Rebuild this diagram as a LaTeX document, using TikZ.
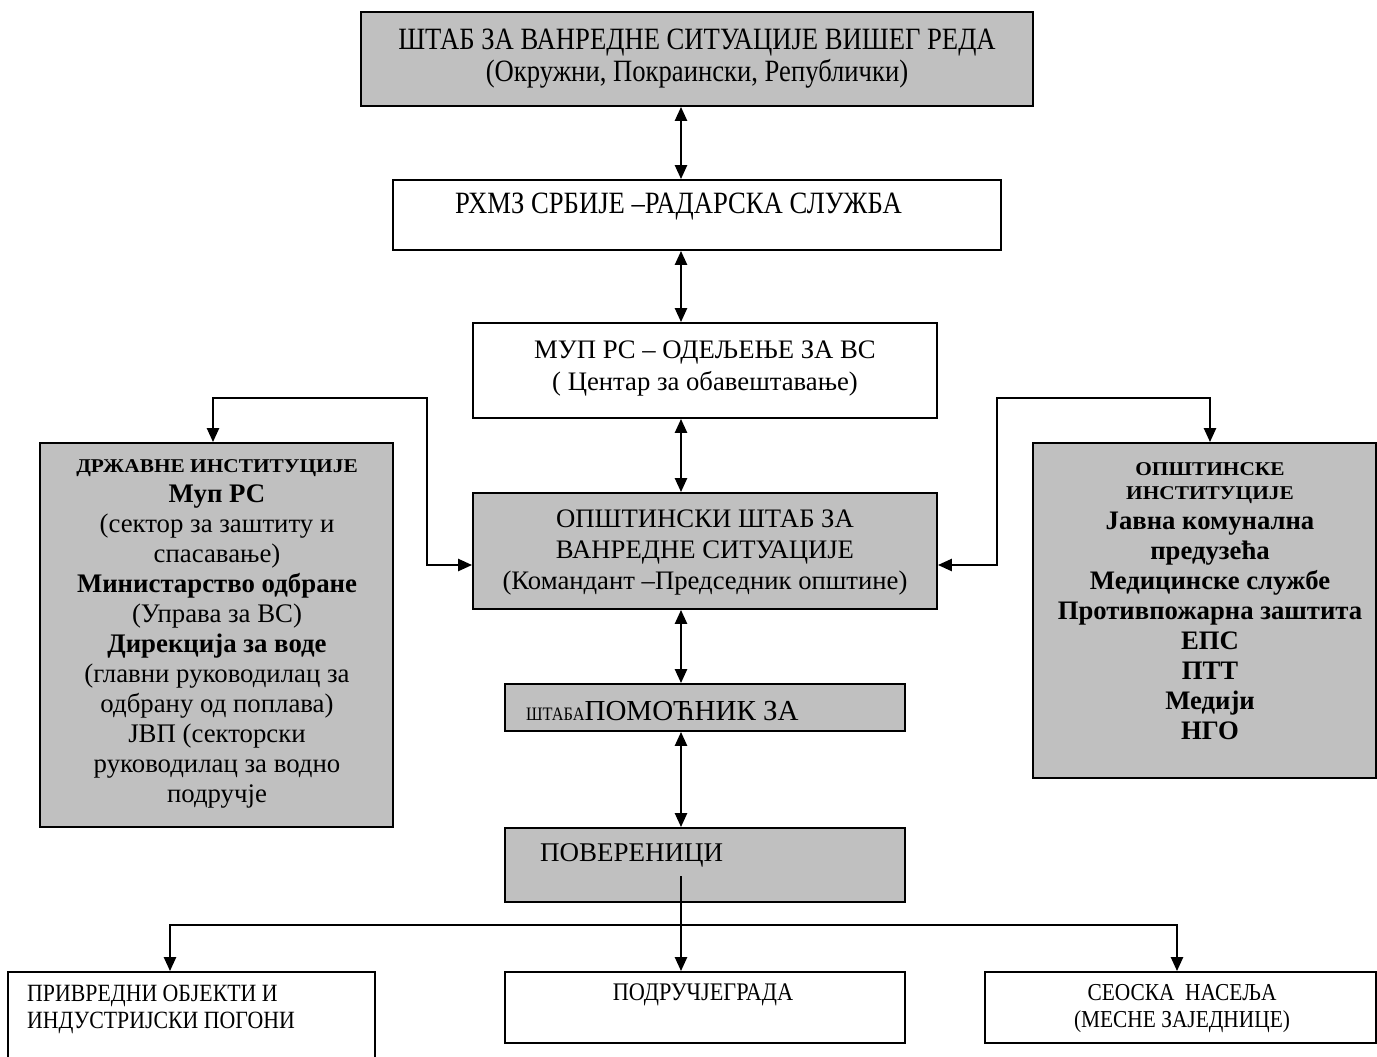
\documentclass[tikz,border=0pt]{standalone}
\usepackage{fontspec}
\setmainfont{Liberation Serif}
\newfontfamily\cond[FakeStretch=0.86]{Liberation Serif}
\newfontfamily\condb[FakeStretch=0.88]{Liberation Serif}
\newfontfamily\widef[FakeStretch=1.095]{Liberation Serif}
\usetikzlibrary{arrows.meta}
\definecolor{boxgray}{HTML}{C0C0C0}
\begin{document}
\begin{tikzpicture}[x=1pt,y=-1pt,
  box/.style={draw=black, line width=1.8pt, rectangle, inner sep=0pt},
  gbox/.style={box, fill=boxgray},
  txt/.style={inner sep=0pt, text=black},
  tip/.tip={Triangle[length=14pt,width=12pt]},
  dbl/.style={line width=2.4pt, tip-tip},
  one/.style={line width=2.4pt, -tip}
]
\useasboundingbox (0,0) rectangle (1377,1057);
\fill[white] (0,0) rectangle (1377,1057);

% boxes
\node[gbox, minimum width=672pt, minimum height=94pt] (top) at (697,59) {};
\node[box, minimum width=608pt, minimum height=70pt] (rhmz) at (697,215) {};
\node[box, minimum width=464pt, minimum height=95pt] (mup) at (705,370.5) {};
\node[gbox, minimum width=464pt, minimum height=116pt] (opst) at (705,551) {};
\node[gbox, minimum width=400pt, minimum height=47pt] (pom) at (705,707.5) {};
\node[gbox, minimum width=400pt, minimum height=74pt] (pov) at (705,865) {};
\node[gbox, minimum width=353pt, minimum height=384pt] (left) at (216.5,635) {};
\node[gbox, minimum width=343pt, minimum height=335pt] (right) at (1204.5,610.5) {};
\node[box, minimum width=367pt, minimum height=110pt] (b1) at (191.5,1027) {};
\node[box, minimum width=400pt, minimum height=71pt] (b2) at (705,1007.5) {};
\node[box, minimum width=391pt, minimum height=71pt] (b3) at (1180.5,1007.5) {};

% texts
\node[txt, align=center, font=\cond\fontsize{31}{32}\selectfont] (ttop) at (697,59)
  {ШТАБ ЗА ВАНРЕДНЕ СИТУАЦИЈЕ ВИШЕГ РЕДА\\(Окружни, Покраински, Републички)};
\node[txt, anchor=west, font=\cond\fontsize{31}{35}\selectfont] (trhmz) at (455,207)
  {РХМЗ СРБИЈЕ –РАДАРСКА СЛУЖБА};
\node[txt, align=center, font=\fontsize{26.7}{32}\selectfont] (tmup) at (705,368)
  {МУП РС – ОДЕЉЕЊЕ ЗА ВС\\( Центар за обавештавање)};
\node[txt, align=center, font=\fontsize{26.7}{31}\selectfont] (topst) at (705,552)
  {ОПШТИНСКИ ШТАБ ЗА\\ВАНРЕДНЕ СИТУАЦИЈЕ\\(Командант –Председник општине)};
\node[txt, anchor=west, font=\fontsize{29}{30}\selectfont] (tpom) at (526,711)
  {{\cond\fontsize{19}{20}\selectfont ШТАБА}ПОМОЋНИК ЗА};
\node[txt, anchor=west, font=\fontsize{27}{30}\selectfont] (tpov) at (540,855)
  {ПОВЕРЕНИЦИ};
\node[txt, align=center, font=\fontsize{26.8}{30}\selectfont] (tleft) at (217,634)
  {{\widef\fontsize{19.5}{30}\selectfont\bfseries ДРЖАВНЕ ИНСТИТУЦИЈЕ}\\
   {\bfseries Муп РС}\\(сектор за заштиту и\\спасавање)\\
   {\bfseries Министарство одбране}\\(Управа за ВС)\\
   {\bfseries Дирекција за воде}\\(главни руководилац за\\одбрану од поплава)\\
   ЈВП (секторски\\руководилац за водно\\подручје};
\node[txt, align=center, font=\bfseries\fontsize{26.7}{30}\selectfont] (tright) at (1210,601)
  {{\widef\fontsize{19.5}{30}\selectfont\bfseries ОПШТИНСКЕ}\\[-6pt]{\widef\fontsize{19.5}{30}\selectfont\bfseries ИНСТИТУЦИЈЕ}\\
   Јавна комунална\\предузећа\\Медицинске службе\\Противпожарна заштита\\
   ЕПС\\ПТТ\\Медији\\НГО};
\node[txt, align=left, anchor=north west, font=\condb\fontsize{24.8}{27}\selectfont] (tb1) at (27,985)
  {ПРИВРЕДНИ ОБЈЕКТИ И\\ИНДУСТРИЈСКИ ПОГОНИ};
\node[txt, font=\condb\fontsize{25.3}{27}\selectfont] (tb2) at (703,995)
  {ПОДРУЧЈЕГРАДА};
\node[txt, align=center, font=\condb\fontsize{24.3}{27}\selectfont] (tb3) at (1182,1009)
  {СЕОСКА~~НАСЕЉА\\(МЕСНЕ ЗАЈЕДНИЦЕ)};

% connector coordinates
\coordinate (ax) at (681,0);
\coordinate (lk1) at (427,398);
\coordinate (lk2) at (213,398);
\coordinate (lk3) at (427,565);
\coordinate (rk1) at (997,398);
\coordinate (rk2) at (1210,398);
\coordinate (rk3) at (997,565);
\coordinate (bs) at (681,876);
\coordinate (bl) at (170,925);
\coordinate (br) at (1177,925);

% vertical double arrows
\draw[dbl] (top.south -| ax) -- (rhmz.north -| ax);
\draw[dbl] (rhmz.south -| ax) -- (mup.north -| ax);
\draw[dbl] (mup.south -| ax) -- (opst.north -| ax);
\draw[dbl] (opst.south -| ax) -- (pom.north -| ax);
\draw[dbl] (pom.south -| ax) -- (pov.north -| ax);

% side connectors
\draw[dbl] (left.north -| lk2) -- (lk2) -- (lk1) -- (lk3) -- (opst.west |- lk3);
\draw[dbl] (right.north -| rk2) -- (rk2) -- (rk1) -- (rk3) -- (opst.east |- rk3);

% bottom connectors
\draw[one] (bs) -- (b2.north -| bs);
\draw[dbl] (b1.north -| bl) -- (bl) -- (br) -- (b3.north -| br);
\end{tikzpicture}
\end{document}
